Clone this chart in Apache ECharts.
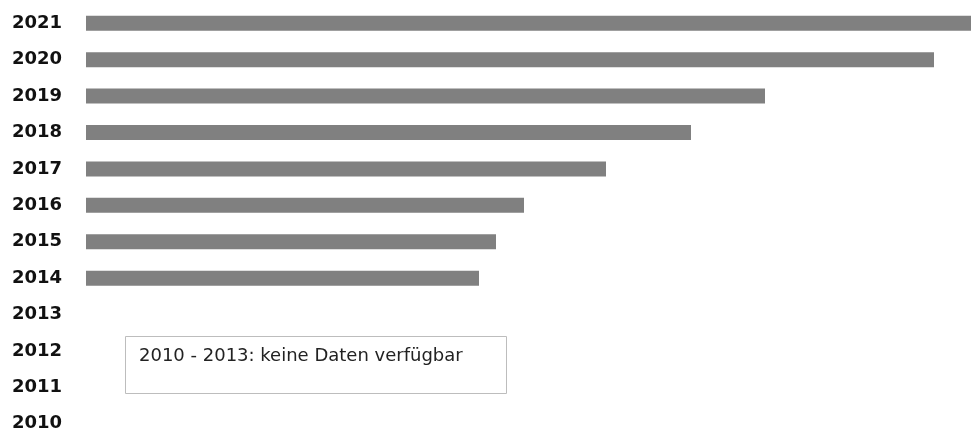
<!DOCTYPE html>
<html>
<head>
<meta charset="utf-8">
<script src="https://cdn.jsdelivr.net/npm/echarts@6/dist/echarts.min.js"></script>
<style>
  html, body { margin: 0; padding: 0; background: #fff; }
  #chart { width: 971px; height: 432px; }
</style>
</head>
<body>
<div id="chart"></div>
<script>
// Jahre von unten nach oben
var years = ['2010', '2011', '2012', '2013', '2014', '2015', '2016', '2017', '2018', '2019', '2020', '2021'];
// 2010 - 2013 ohne Daten
var values = [null, null, null, null, 393, 410, 438, 520, 605, 679, 848, 885];
var noteText = '2010 - 2013: keine Daten verfügbar';

var myChart = echarts.init(document.getElementById('chart'));

myChart.setOption({
    animation: false,
    grid: {
        left: 86,
        right: 0,
        top: 5,
        bottom: -10,
        outerBoundsMode: 'none'
    },
    xAxis: {
        type: 'value',
        min: 0,
        max: 885,
        show: false
    },
    yAxis: {
        type: 'category',
        data: years,
        axisLine: { show: false },
        axisTick: { show: false },
        splitLine: { show: false },
        axisLabel: {
            margin: 24,
            color: '#111',
            fontFamily: 'DejaVu Sans',
            fontWeight: 'bold',
            fontSize: 18
        }
    },
    series: [
        {
            type: 'bar',
            data: values,
            barWidth: 15,
            itemStyle: {
                color: '#808080'
            }
        }
    ],
    graphic: [
        {
            type: 'rect',
            left: 125,
            top: 336,
            shape: { width: 381, height: 57 },
            style: { fill: '#fff', stroke: '#bdbdbd', lineWidth: 1 }
        },
        {
            type: 'text',
            left: 139,
            top: 347,
            style: {
                text: noteText,
                fill: '#222',
                font: '18px "DejaVu Sans"'
            }
        }
    ]
});
</script>
</body>
</html>
